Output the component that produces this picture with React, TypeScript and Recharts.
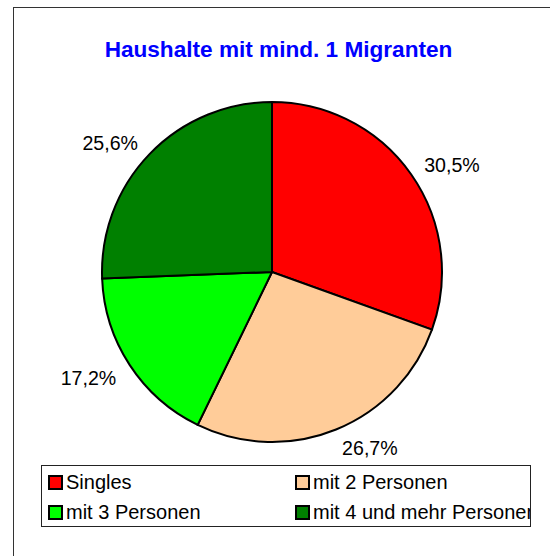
import { Legend, Pie, PieChart, Cell } from "recharts";

const categories = ["Singles", "mit 2 Personen", "mit 3 Personen", "mit 4 und mehr Personen"];
const shares = [30.5, 26.7, 17.2, 25.6];
const colors = ["#FF0000", "#FFCC99", "#00FF00", "#008000"];

const data = categories.map((name, i) => ({ name, value: shares[i] }));

const FONT = '"Liberation Sans", Arial, sans-serif';
const RADIAN = Math.PI / 180;

function formatPct(v: number) {
  return v.toFixed(1).replace(".", ",") + "%";
}

// outside-end labels, anchored away from the pie
function renderLabel(props: any) {
  const { cx, cy, midAngle, outerRadius, value } = props;
  const r = outerRadius + 16;
  const cos = Math.cos(-midAngle * RADIAN);
  const sin = Math.sin(-midAngle * RADIAN);
  const x = cx + r * cos;
  const y = cy + r * sin + (sin > 0 ? 4 : 0);
  return (
    <text
      x={x}
      y={y}
      fill="#000"
      fontSize={19.6}
      fontFamily={FONT}
      textAnchor={cos >= 0 ? "start" : "end"}
      dominantBaseline="central"
    >
      {formatPct(value)}
    </text>
  );
}

function LegendBox({ payload }: any) {
  return (
    <div
      style={{
        width: 490,
        height: 62,
        boxSizing: "border-box",
        border: "1px solid #222",
        position: "relative",
        overflow: "hidden",
        background: "#fff",
        fontFamily: FONT,
        fontSize: 20,
        color: "#000",
      }}
    >
      {(payload || []).map((entry: any, i: number) => (
        <div
          key={entry.value}
          style={{
            position: "absolute",
            left: 6 + (i % 2) * 247,
            top: 4 + Math.floor(i / 2) * 30,
            height: 24,
            display: "flex",
            alignItems: "center",
            whiteSpace: "nowrap",
          }}
        >
          <span
            style={{
              display: "inline-block",
              width: 11,
              height: 11,
              border: "2px solid #000",
              background: entry.color,
              marginRight: 3,
            }}
          />
          {entry.value}
        </div>
      ))}
    </div>
  );
}

export default function App() {
  return (
    <div style={{ position: "absolute", left: 0, top: 0, width: 550, height: 556, background: "#fff" }}>
      <div style={{ position: "absolute", left: 13, top: 7, width: 537, height: 1, background: "#333" }} />
      <div style={{ position: "absolute", left: 13, top: 7, width: 1, height: 549, background: "#333" }} />
      <div
        style={{
          position: "absolute",
          left: 0,
          top: 37,
          width: 557,
          textAlign: "center",
          fontFamily: FONT,
          fontWeight: "bold",
          fontSize: 22.6,
          color: "#0000FF",
        }}
      >
        Haushalte mit mind. 1 Migranten
      </div>
      <PieChart width={550} height={556} margin={{ top: 0, right: 0, bottom: 0, left: 0 }}>
        <Pie
          data={data}
          dataKey="value"
          nameKey="name"
          cx={272}
          cy={272}
          outerRadius={170}
          startAngle={90}
          endAngle={-270}
          stroke="#000"
          strokeWidth={2}
          label={renderLabel}
          labelLine={false}
          isAnimationActive={false}
        >
          {data.map((d, i) => (
            <Cell key={d.name} fill={colors[i]} />
          ))}
        </Pie>
        <Legend
          content={<LegendBox />}
          wrapperStyle={{ position: "absolute", left: 41, top: 465, width: 490, height: 62 }}
        />
      </PieChart>
    </div>
  );
}
